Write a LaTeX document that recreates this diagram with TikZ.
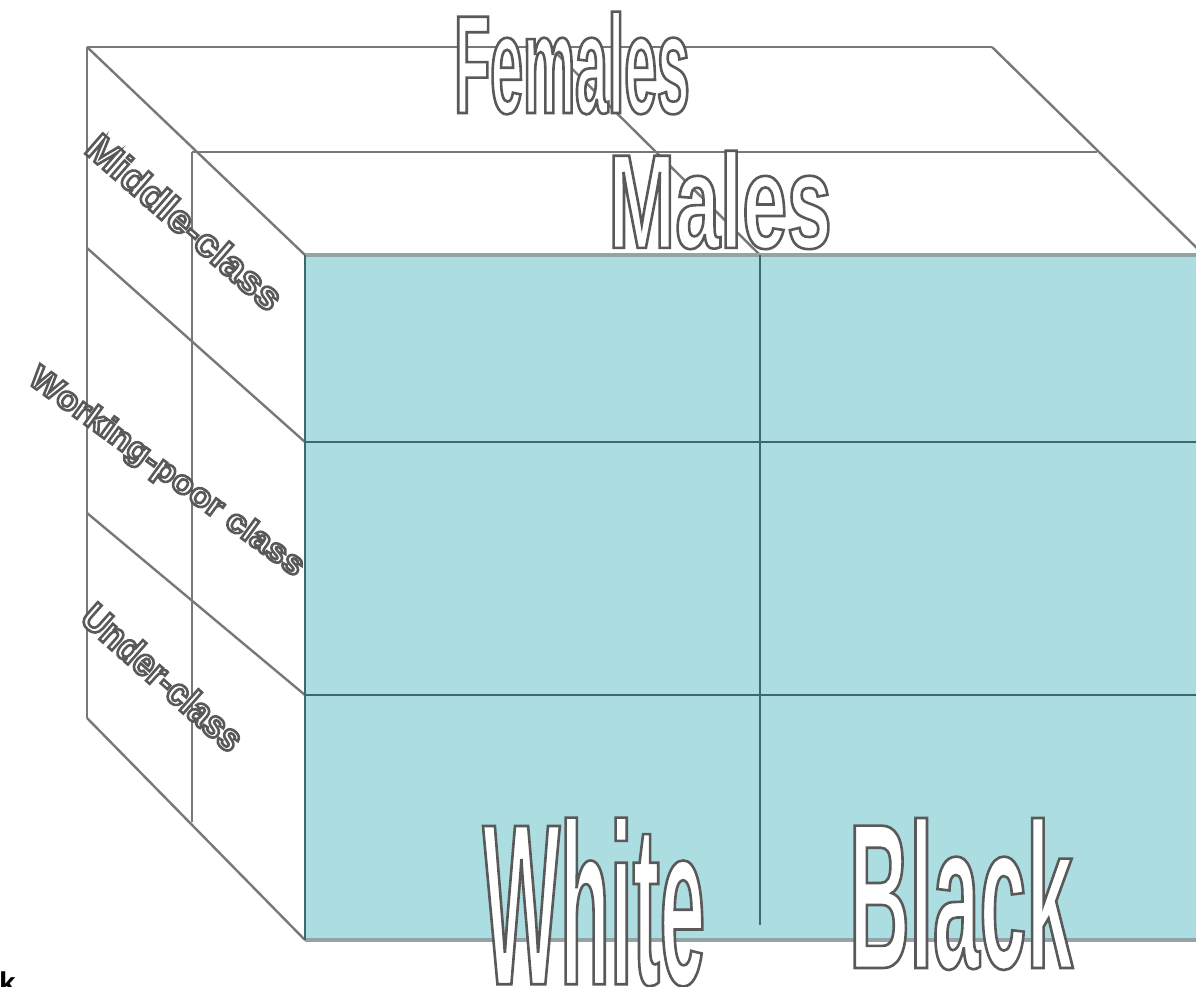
\documentclass[tikz,border=0pt]{standalone}
\usepackage{fontspec}
\setmainfont{Liberation Sans}
\newfontfamily\femfont{Liberation Sans Bold}[FakeStretch=0.42]
\newfontfamily\malfont{Liberation Sans Bold}[FakeStretch=0.60]
\newfontfamily\whifont{Liberation Sans Bold}[FakeStretch=0.355]
\newfontfamily\blafont{Liberation Sans Bold}[FakeStretch=0.405]
\newfontfamily\midfont{Liberation Sans Bold}[FakeStretch=1.05]
\newfontfamily\worfont{Liberation Sans Bold}[FakeStretch=1.08]
\newfontfamily\undfont{Liberation Sans Bold}[FakeStretch=0.9]
\definecolor{tealfill}{RGB}{172,221,225}
\definecolor{tealline}{RGB}{62,104,108}
\definecolor{backline}{RGB}{120,120,120}
\definecolor{rimline}{RGB}{148,164,166}
\tikzset{
  edge/.style={draw=backline, line width=2.4pt},
  gridline/.style={draw=tealline, line width=2.4pt},
  rim/.style={draw=rimline, line width=4pt},
  wordart/.style={inner sep=0pt, text=white},
}
\newcommand{\outlinetext}[1]{\special{pdf:literal direct 2 Tr 2.6 w 0.35 0.35 0.35 RG}#1\special{pdf:literal direct 0 Tr}}
\begin{document}
\begin{tikzpicture}[x=1pt,y=-1pt]
\useasboundingbox (0,0) rectangle (1196,987);
\clip (0,0) rectangle (1196,987);
\fill[white] (0,0) rectangle (1196,987);
% back structure
\coordinate (b1) at (87,47);
\coordinate (b2) at (992,47);
\coordinate (m1) at (192,152);
\coordinate (m2) at (1097,152);
\coordinate (f1) at (305,255);
\draw[edge] (b1) -- (b2);
\draw[edge] (m1) -- (m2);
\draw[edge] (b1) -- (87,718);
\draw[edge] (m1) -- (192,822);
\draw[edge] (b1) -- (f1);
\draw[edge] (87,248) -- (305,442);
\draw[edge] (87,513) -- (305,695);
\draw[edge] (87,718) -- (305,940);
\draw[edge] (550,47) -- (760,255);
\draw[edge] (b2) -- (1204,255);
% front face
\fill[tealfill] (305,255) rectangle (1210,940);
\draw[rim] (305,255) -- (1210,255);
\draw[rim] (305,940) -- (1210,940);
\draw[gridline] (305,255) -- (305,940);
\draw[gridline] (305,442) -- (1210,442);
\draw[gridline] (305,695) -- (1210,695);
\draw[gridline] (760,255) -- (760,925);
% labels
\node[wordart, font=\femfont\fontsize{140}{140}\selectfont] (females) at (572,63) {\outlinetext{Females}};
\node[wordart, font=\malfont\fontsize{134}{134}\selectfont] (males) at (720,200) {\outlinetext{Males}};
\node[wordart, font=\whifont\fontsize{230}{230}\selectfont] (white) at (594,902) {\outlinetext{White}};
\node[wordart, font=\blafont\fontsize{207}{207}\selectfont] (black) at (961,894) {\outlinetext{Black}};
\node[wordart, rotate=-41, font=\midfont\fontsize{39}{39}\selectfont] (middle) at (185,222) {\outlinetext{Middle-class}};
\node[wordart, rotate=-36, font=\worfont\fontsize{33}{33}\selectfont] (working) at (166,473) {\outlinetext{Working-poor class}};
\node[wordart, rotate=-41.5, font=\undfont\fontsize{39}{39}\selectfont] (under) at (163,677) {\outlinetext{Under-class}};
\node[inner sep=0pt, anchor=north west, font=\bfseries\fontsize{30}{30}\selectfont] (frag) at (-1,972) {k};
\end{tikzpicture}
\end{document}
